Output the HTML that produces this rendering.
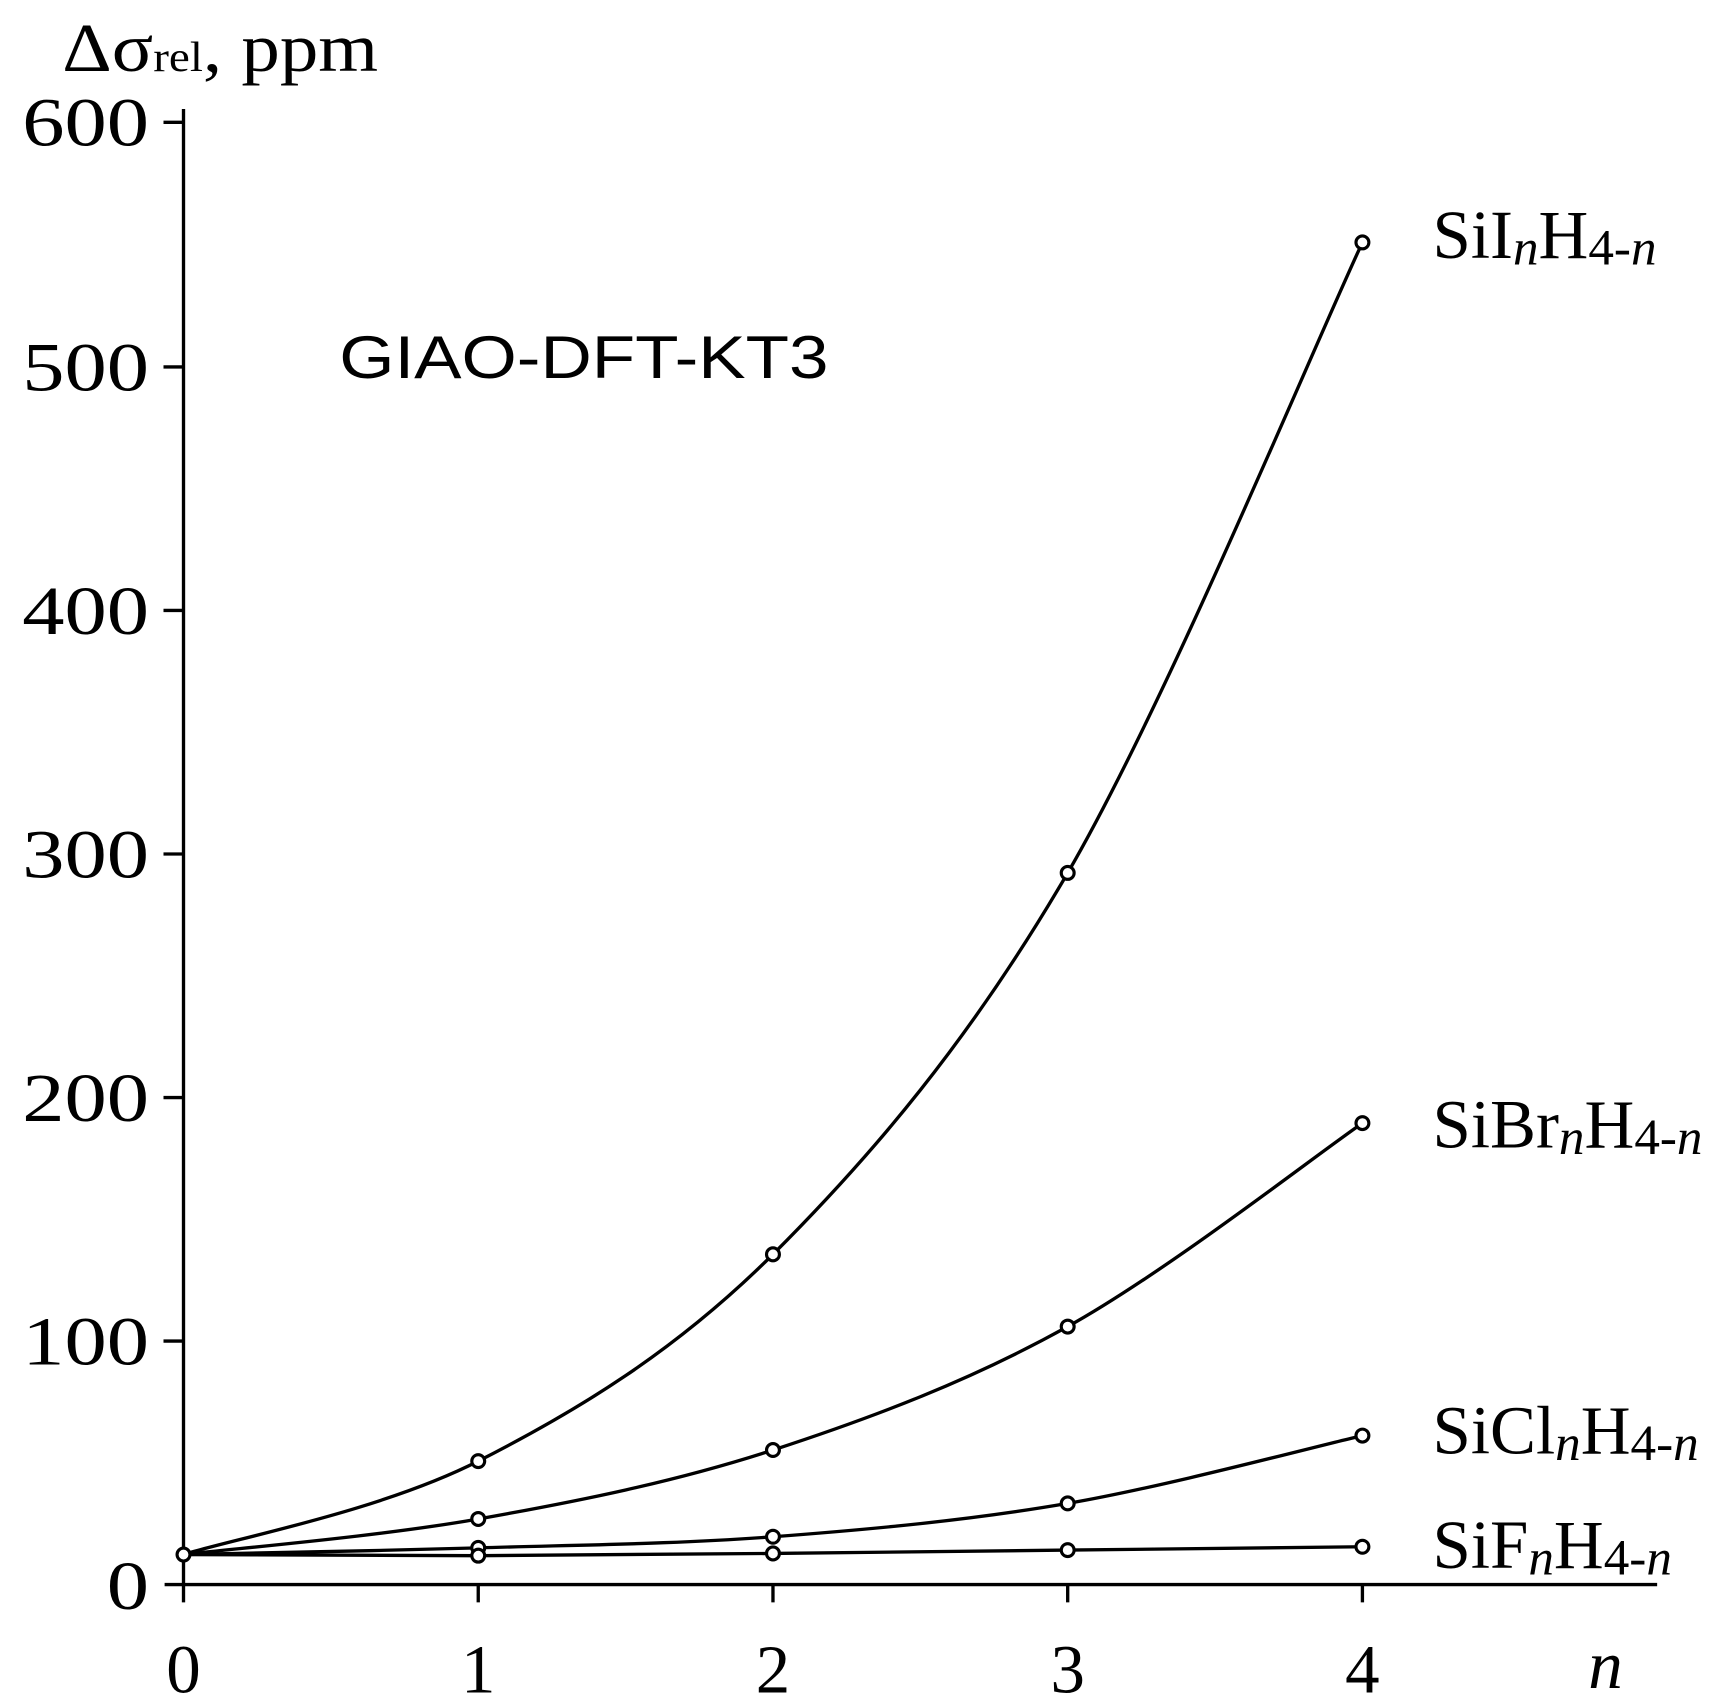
<!DOCTYPE html>
<html><head><style>html,body{margin:0;padding:0;background:#fff}svg{display:block}</style></head>
<body>
<svg width="1735" height="1702" viewBox="0 0 1560 1530.6" preserveAspectRatio="none" xmlns="http://www.w3.org/2000/svg">
<g stroke="#000" fill="none" stroke-width="3">
<line x1="165" y1="98" x2="165" y2="1441"/>
<line x1="148" y1="1425" x2="1490" y2="1425"/>
<line x1="147" y1="110" x2="165" y2="110"/>
<line x1="147" y1="330" x2="165" y2="330"/>
<line x1="147" y1="549" x2="165" y2="549"/>
<line x1="147" y1="768" x2="165" y2="768"/>
<line x1="147" y1="987" x2="165" y2="987"/>
<line x1="147" y1="1206" x2="165" y2="1206"/>
<line x1="430" y1="1425" x2="430" y2="1441"/>
<line x1="695" y1="1425" x2="695" y2="1441"/>
<line x1="960" y1="1425" x2="960" y2="1441"/>
<line x1="1225" y1="1425" x2="1225" y2="1441"/>
<path d="M165,1398 C209,1384 341.7,1359 430,1314 C518.3,1269 606.7,1216 695,1128 C783.3,1039.8 871.7,936.7 960,785 C1048.3,633.3 1180.8,312.5 1225,218"/>
<path d="M165,1398 C209,1392.7 341.7,1381.7 430,1366 C518.3,1350.3 606.7,1332.8 695,1304 C783.3,1275.2 871.7,1242 960,1193 C1048.3,1144 1180.8,1040.5 1225,1010"/>
<path d="M165,1398 C209,1397 341.7,1394.7 430,1392 C518.3,1389.3 606.7,1388.7 695,1382 C783.3,1375.3 871.7,1367.2 960,1352 C1048.3,1336.8 1180.8,1301.2 1225,1291"/>
<path d="M165,1398 L430,1399 L695,1397 L960,1394 L1225,1391"/>
<g stroke-width="2.8" fill="#fff">
<circle cx="165" cy="1398" r="5.8"/>
<circle cx="430" cy="1314" r="5.8"/><circle cx="695" cy="1128" r="5.8"/><circle cx="960" cy="785" r="5.8"/><circle cx="1225" cy="218" r="5.8"/>
<circle cx="430" cy="1366" r="5.8"/><circle cx="695" cy="1304" r="5.8"/><circle cx="960" cy="1193" r="5.8"/><circle cx="1225" cy="1010" r="5.8"/>
<circle cx="430" cy="1392" r="5.8"/><circle cx="695" cy="1382" r="5.8"/><circle cx="960" cy="1352" r="5.8"/><circle cx="1225" cy="1291" r="5.8"/>
<circle cx="430" cy="1399" r="5.8"/><circle cx="695" cy="1397" r="5.8"/><circle cx="960" cy="1394" r="5.8"/><circle cx="1225" cy="1391" r="5.8"/>
</g>
</g>
<g font-family="Liberation Serif, serif" font-size="62" fill="#000">
<text x="20" y="131" textLength="114" lengthAdjust="spacingAndGlyphs">600</text>
<text x="20" y="351" textLength="114" lengthAdjust="spacingAndGlyphs">500</text>
<text x="20" y="570" textLength="114" lengthAdjust="spacingAndGlyphs">400</text>
<text x="20" y="789" textLength="114" lengthAdjust="spacingAndGlyphs">300</text>
<text x="20" y="1008" textLength="114" lengthAdjust="spacingAndGlyphs">200</text>
<text x="20" y="1227" textLength="114" lengthAdjust="spacingAndGlyphs">100</text>
<text x="96" y="1447" textLength="38" lengthAdjust="spacingAndGlyphs">0</text>
<text x="165" y="1522" text-anchor="middle">0</text>
<text x="430" y="1522" text-anchor="middle">1</text>
<text x="695" y="1522" text-anchor="middle">2</text>
<text x="960" y="1522" text-anchor="middle">3</text>
<text x="1225" y="1522" text-anchor="middle">4</text>
<text x="1428" y="1518" font-style="italic">n</text>
<text x="56" y="64" textLength="284" lengthAdjust="spacingAndGlyphs">Δσ<tspan font-size="38">rel</tspan>, ppm</text>
<text x="1288" y="232">SiI<tspan font-style="italic" font-size="46" dy="6">n</tspan><tspan dy="-6">H</tspan><tspan font-size="46" dy="6">4-</tspan><tspan font-style="italic" font-size="46">n</tspan></text>
<text x="1288" y="1032">SiBr<tspan font-style="italic" font-size="46" dy="6">n</tspan><tspan dy="-6">H</tspan><tspan font-size="46" dy="6">4-</tspan><tspan font-style="italic" font-size="46">n</tspan></text>
<text x="1288" y="1307">SiCl<tspan font-style="italic" font-size="46" dy="6">n</tspan><tspan dy="-6">H</tspan><tspan font-size="46" dy="6">4-</tspan><tspan font-style="italic" font-size="46">n</tspan></text>
<text x="1288" y="1410">SiF<tspan font-style="italic" font-size="46" dy="6">n</tspan><tspan dy="-6">H</tspan><tspan font-size="46" dy="6">4-</tspan><tspan font-style="italic" font-size="46">n</tspan></text>
</g>
<text x="305" y="340" font-family="Liberation Sans, sans-serif" font-size="54" fill="#000" textLength="440" lengthAdjust="spacingAndGlyphs">GIAO-DFT-KT3</text>
</svg>
</body></html>
